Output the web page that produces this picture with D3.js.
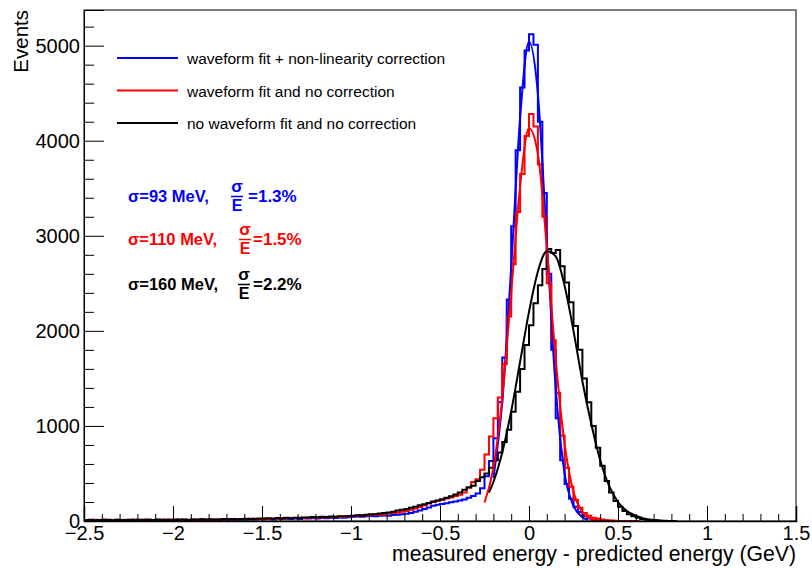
<!DOCTYPE html>
<html>
<head>
<meta charset="utf-8">
<script src="https://cdn.jsdelivr.net/npm/d3@7"></script>
<style>
  body { margin: 0; background: #fff; }
  svg { font-family: "Liberation Sans", Arial, Helvetica, sans-serif; }
</style>
</head>
<body>
<div id="chart"></div>
<script>
// histograms: 160 bins of 0.025 GeV starting at -2.5
const binStart = -2.5, binWidth = 0.025;

const blueCounts = [
  8,10,6,9,12,7,10,8,11,9,
  7,12,10,9,13,8,11,10,12,9,
  12,10,14,11,13,9,15,12,14,13,
  11,16,14,12,17,15,13,18,16,19,
  18,21,17,23,20,24,22,26,21,28,
  25,30,27,32,29,35,31,38,34,40,
  44,47,45,50,53,49,56,58,55,62,
  66,70,76,84,96,110,125,142,160,172,
  180,188,198,205,215,226,245,262,290,345,
  470,630,870,1250,1720,2330,3100,3900,4560,4950,
  5120,5010,4200,3450,2600,1800,1080,640,390,235,
  150,95,52,26,12,5,2,1,0,0,
  0,0,0,0,0,0,0,0,0,0,
  0,0,0,0,0,0,0,0,0,0,
  0,0,0,0,0,0,0,0,0,0,
  0,0,0,0,0,0,0,0,0,0
];

const redCounts = [
  10,7,12,9,14,8,11,13,9,12,
  10,14,8,12,15,11,9,13,16,12,
  14,11,16,13,12,17,14,15,18,13,
  16,19,15,18,21,17,20,23,19,22,
  24,21,27,25,29,26,31,28,33,30,
  34,37,33,40,38,43,41,46,44,49,
  52,55,60,58,64,68,66,72,78,84,
  90,96,104,118,132,148,165,185,200,212,
  222,236,248,262,275,300,350,410,440,540,
  700,890,1080,1300,1650,2150,2700,3250,3650,4050,
  4280,4150,3750,3200,2500,1900,1350,900,560,360,
  220,140,85,55,35,25,15,8,4,2,
  1,1,0,0,0,0,0,0,0,0,
  0,0,0,0,0,0,0,0,0,0,
  0,0,0,0,0,0,0,0,0,0,
  0,0,0,0,0,0,0,0,0,0
];

const blackCounts = [
  9,12,8,11,10,13,7,12,10,11,
  13,9,12,14,10,11,15,12,10,13,
  12,15,13,11,16,14,18,13,15,17,
  16,20,18,22,17,21,24,19,23,26,
  25,28,24,31,29,33,30,35,32,38,
  36,41,39,44,42,48,45,51,49,53,
  55,60,58,66,72,70,78,84,90,98,
  110,118,125,140,150,165,175,190,205,215,
  230,245,260,280,300,330,355,370,420,460,
  500,560,640,720,830,960,1150,1360,1600,1850,
  2060,2290,2480,2650,2860,2820,2850,2680,2510,2300,
  2050,1800,1500,1250,1000,770,580,420,300,210,
  150,105,72,50,34,22,14,9,5,3,
  2,1,1,0,0,0,0,0,0,0,
  0,0,0,0,0,0,0,0,0,0,
  0,0,0,0,0,0,0,0,0,0
];

// fitted curves, [x, events]
const blueFit = [[-0.2,450],[-0.15,1260],[-0.1,2670],[-0.05,4240],[0,5040],[0.05,4490],
  [0.1,2950],[0.15,1400],[0.2,500],[0.25,160],[0.3,40],[0.33,10]];
const redFit = [[-0.25,195],[-0.2,560],[-0.15,1300],[-0.1,2400],[-0.05,3520],[0,4130],
  [0.05,3860],[0.1,2880],[0.15,1700],[0.2,810],[0.25,305],[0.3,92],[0.35,22],[0.4,4],[0.5,0],[0.62,0]];
const blackFit = [[-0.225,298],[-0.2,410],[-0.15,723],[-0.1,1155],[-0.05,1675],[0,2200],
  [0.05,2625],[0.1,2838],[0.15,2783],[0.2,2474],[0.25,2000],[0.3,1470],[0.35,1020],[0.4,640],
  [0.45,370],[0.5,200],[0.55,105],[0.6,55],[0.65,25],[0.7,10],[0.75,3]];

const xTicks = [-2.5, -2, -1.5, -1, -0.5, 0, 0.5, 1, 1.5];
const yTicks = [0, 1000, 2000, 3000, 4000, 5000];

const legendLabels = ["waveform fit + non-linearity correction",
                      "waveform fit and no correction",
                      "no waveform fit and no correction"];
const sigmaLabels = ["σ=93 MeV,", "σ=110 MeV,", "σ=160 MeV,"];
const ratioLabels = ["=1.3%", "=1.5%", "=2.2%"];
const colors = ["#0000ff", "#ff0000", "#000000"];

{
  let sizex = 812,
      sizey = 568;

  var margin = {top: 10, right: 16, bottom: 47, left: 84},
      width = sizex - margin.left - margin.right,
      height = sizey - margin.top - margin.bottom;

  var svg = d3.select("#chart")
    .append("svg")
      .attr("width", sizex)
      .attr("height", sizey)
    .append("g")
      .attr("transform", "translate(" + margin.left + "," + margin.top + ")");

  var x = d3.scaleLinear().domain([-2.5, 1.5]).range([0, width]);
  var y = d3.scaleLinear().domain([0, 5375]).range([height, 0]);

  svg.append("clipPath").attr("id", "frame")
    .append("rect").attr("width", width).attr("height", height);

  var plot = svg.append("g").attr("clip-path", "url(#frame)");

  function histPath(counts) {
    let last = counts.length - 1;
    while (last > 0 && counts[last] === 0) last--;
    let pts = counts.slice(0, last + 1).map((c, i) => [binStart + i * binWidth, c]);
    pts.push([binStart + (last + 1) * binWidth, counts[last]]);
    pts.push([binStart + (last + 1) * binWidth, 0]);
    return d3.line().x(d => x(d[0])).y(d => y(d[1])).curve(d3.curveStepAfter)(pts);
  }
  var fitLine = d3.line().x(d => x(d[0])).y(d => y(d[1])).curve(d3.curveMonotoneX);

  [blueCounts, redCounts, blackCounts].forEach(function(counts, i) {
    plot.append("path")
      .attr("d", histPath(counts))
      .attr("fill", "none")
      .attr("stroke", colors[i])
      .attr("stroke-width", 2);
  });
  [blueFit, redFit, blackFit].forEach(function(fit, i) {
    plot.append("path")
      .attr("d", fitLine(fit))
      .attr("fill", "none")
      .attr("stroke", colors[i])
      .attr("stroke-width", 2);
  });

  // frame
  svg.append("rect")
    .attr("width", width).attr("height", height)
    .attr("fill", "none").attr("stroke", "#000").attr("stroke-width", 1);

  // x axis
  var xMinor = d3.range(-25, 16).map(d => d / 10).filter(d => Math.abs(d * 2 - Math.round(d * 2)) > 1e-6);
  svg.append("g")
    .attr("transform", "translate(0," + height + ")")
    .call(d3.axisBottom(x).tickValues(xMinor).tickSize(-7).tickFormat(""))
    .call(g => g.select(".domain").remove());
  svg.append("g")
    .attr("transform", "translate(0," + height + ")")
    .style("font", "20px 'Liberation Sans', Arial, sans-serif")
    .call(d3.axisBottom(x).tickValues(xTicks).tickSize(-15).tickPadding(5).tickFormat(d3.format("~g")))
    .call(g => g.select(".domain").attr("stroke-width", 1.5))
    .call(g => g.selectAll("text").attr("fill", "#000"));

  // y axis
  var yMinor = d3.range(200, 5375, 200).filter(d => d % 1000 !== 0);
  svg.append("g")
    .call(d3.axisLeft(y).tickValues(yMinor).tickSize(-10).tickFormat(""))
    .call(g => g.select(".domain").remove());
  svg.append("g")
    .style("font", "20px 'Liberation Sans', Arial, sans-serif")
    .call(d3.axisLeft(y).tickValues(yTicks).tickSize(-20).tickPadding(4).tickFormat(d3.format("d")))
    .call(g => g.selectAll("text").attr("fill", "#000"));

  // axis titles
  svg.append("text")
    .attr("x", width).attr("y", height + 40)
    .style("font-size", "21.2px")
    .style("text-anchor", "end")
    .text("measured energy - predicted energy (GeV)");
  svg.append("text")
    .attr("transform", "translate(" + (28 - margin.left) + ",0)rotate(-90)")
    .style("font-size", "20.5px")
    .style("text-anchor", "end")
    .text("Events");

  // legend
  legendLabels.forEach(function(label, i) {
    let ly = 48 + i * 32.5;
    svg.append("line")
      .attr("x1", 117 - margin.left).attr("x2", 178 - margin.left)
      .attr("y1", ly).attr("y2", ly)
      .attr("stroke", colors[i]).attr("stroke-width", 2);
    svg.append("text")
      .attr("x", 187 - margin.left).attr("y", ly + 6)
      .style("font-size", "15.5px")
      .text(label);
  });

  // resolution labels
  var rows = [{b: 192, fx: 237, rx: 248}, {b: 235, fx: 245, rx: 253}, {b: 280, fx: 244, rx: 253}];
  sigmaLabels.forEach(function(label, i) {
    let r = rows[i], g = svg.append("g")
      .style("font-weight", "bold")
      .attr("fill", colors[i]);
    g.append("text").attr("x", 128 - margin.left).attr("y", r.b)
      .style("font-size", "16.5px").text(label);
    g.append("text").attr("x", r.fx - margin.left).attr("y", r.b - 10)
      .style("font-size", "17px").style("text-anchor", "middle").text("σ");
    g.append("line")
      .attr("x1", r.fx - 6 - margin.left).attr("x2", r.fx + 6 - margin.left)
      .attr("y1", r.b - 5.5).attr("y2", r.b - 5.5)
      .attr("stroke", colors[i]).attr("stroke-width", 1.5);
    g.append("text").attr("x", r.fx - margin.left).attr("y", r.b + 8.5)
      .style("font-size", "16px").style("text-anchor", "middle").text("E");
    g.append("text").attr("x", r.rx - margin.left).attr("y", r.b)
      .style("font-size", "17px").text(ratioLabels[i]);
  });
}
</script>
</body>
</html>
